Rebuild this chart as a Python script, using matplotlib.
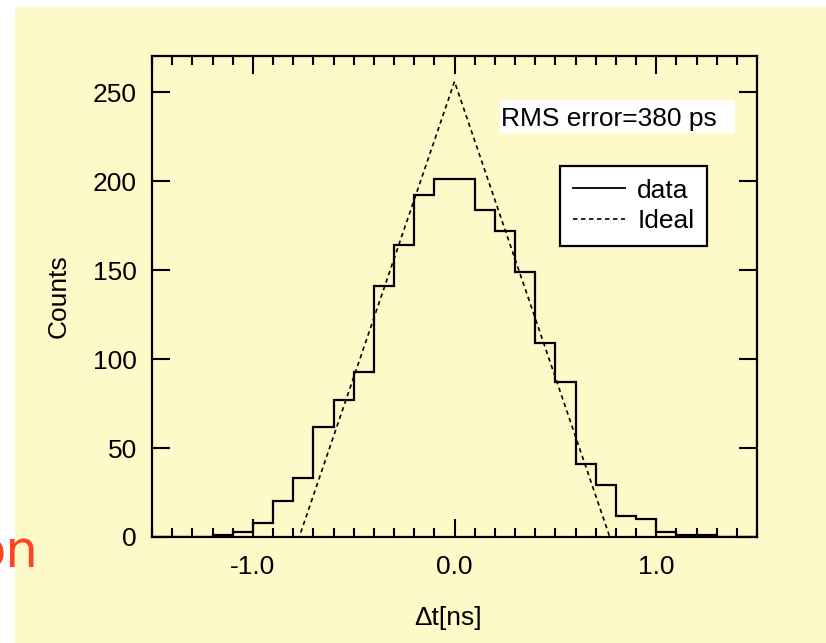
import numpy as np
import matplotlib
matplotlib.use('Agg')
import matplotlib.pyplot as plt
from matplotlib.lines import Line2D
from matplotlib.patches import Rectangle

# histogram of time differences, 0.1 ns bins from -1.5 to 1.5
bin_edges = np.round(np.arange(-1.5, 1.501, 0.1), 2)
counts = [0, 0, 0, 1, 3, 8, 20, 33, 62, 77,
          93, 141, 164, 192, 201, 201, 184, 172, 149, 109,
          87, 41, 29, 12, 10, 3, 1, 1, 0, 0]

# ideal triangular response
ideal_x = [-1.5, -0.77, 0.0, 0.77, 1.5]
ideal_y = [0, 0, 256, 0, 0]

yellow = '#FEF9C8'
fs = 19
plt.rcParams['font.family'] = ['Liberation Sans', 'DejaVu Sans']

fig = plt.figure(figsize=(8.26, 6.43), dpi=100, facecolor='white')
# yellow slide background, kept behind the axes
fig.patches.append(Rectangle((15 / 826, 0), 1 - 15 / 826, 1 - 7 / 643,
                             transform=fig.transFigure, facecolor=yellow,
                             edgecolor='none', zorder=-10))

ax = fig.add_axes([152 / 826, 1 - 537 / 643, 605 / 826, (537 - 55.7) / 643])
ax.set_zorder(1)
ax.set_facecolor(yellow)

ax.stairs(counts, bin_edges, color='black', lw=1.6, zorder=3)
ax.plot(ideal_x, ideal_y, color='black', lw=1.2, linestyle=(0, (2.6, 2.2)), zorder=4)

ax.set_xlim(-1.5, 1.5)
ax.set_ylim(0, 270.5)
ax.set_xticks([-1.0, 0.0, 1.0])
ax.set_xticklabels(['-1.0', '0.0', '1.0'])
ax.set_xticks(np.round(np.arange(-1.5, 1.501, 0.1), 2), minor=True)
ax.set_yticks([0, 50, 100, 150, 200, 250])

ax.tick_params(axis='both', which='both', direction='in', top=True, right=True,
               width=1.5, labelsize=fs, colors='black')
ax.tick_params(axis='both', which='major', length=13)
ax.tick_params(axis='x', which='minor', length=6.5)
ax.tick_params(axis='x', which='major', pad=13)
ax.tick_params(axis='y', which='major', pad=11)
for s in ax.spines.values():
    s.set_linewidth(1.6)

ax.set_xlabel('\u0394t[ns]', fontsize=fs)
ax.xaxis.set_label_coords((448 - 152) / 605, (537 - 606) / 481.3)
ax.set_ylabel('Counts', fontsize=fs)
ax.yaxis.set_label_coords((71 - 152) / 605, 0.5)

# RMS annotation on a white box
ax.add_patch(Rectangle(((500 - 152) / 605, (537 - 133) / 481.3), 235 / 605, 33 / 481.3,
                       transform=ax.transAxes, facecolor='white', edgecolor='none', zorder=5))
ax.text((501 - 152) / 605, (537 - 125.7) / 481.3, 'RMS error=380 ps', transform=ax.transAxes,
        fontsize=fs, va='baseline', ha='left', zorder=6)

handles = [Line2D([], [], color='black', lw=1.3),
           Line2D([], [], color='black', lw=1.2, linestyle=(0, (2.6, 2.2)))]
leg = ax.legend(handles, ['data', 'Ideal'], loc='upper left',
                bbox_to_anchor=((560 - 152) / 605, (537 - 166) / 481.3),
                borderaxespad=0, fontsize=fs, handlelength=2.0, handletextpad=0.45,
                fancybox=False, framealpha=1, edgecolor='black', labelspacing=0.25,
                borderpad=0.48)
leg.get_frame().set_linewidth(1.6)
leg.set_zorder(7)

# leftover slide text, cut off at the left edge
fig.text(38 / 826, 1 - 568 / 643, 'on', fontsize=37, color='#FF4422',
         ha='right', va='baseline', family=['DejaVu Sans'])

fig.savefig('out.png', dpi=100, facecolor=fig.get_facecolor())
